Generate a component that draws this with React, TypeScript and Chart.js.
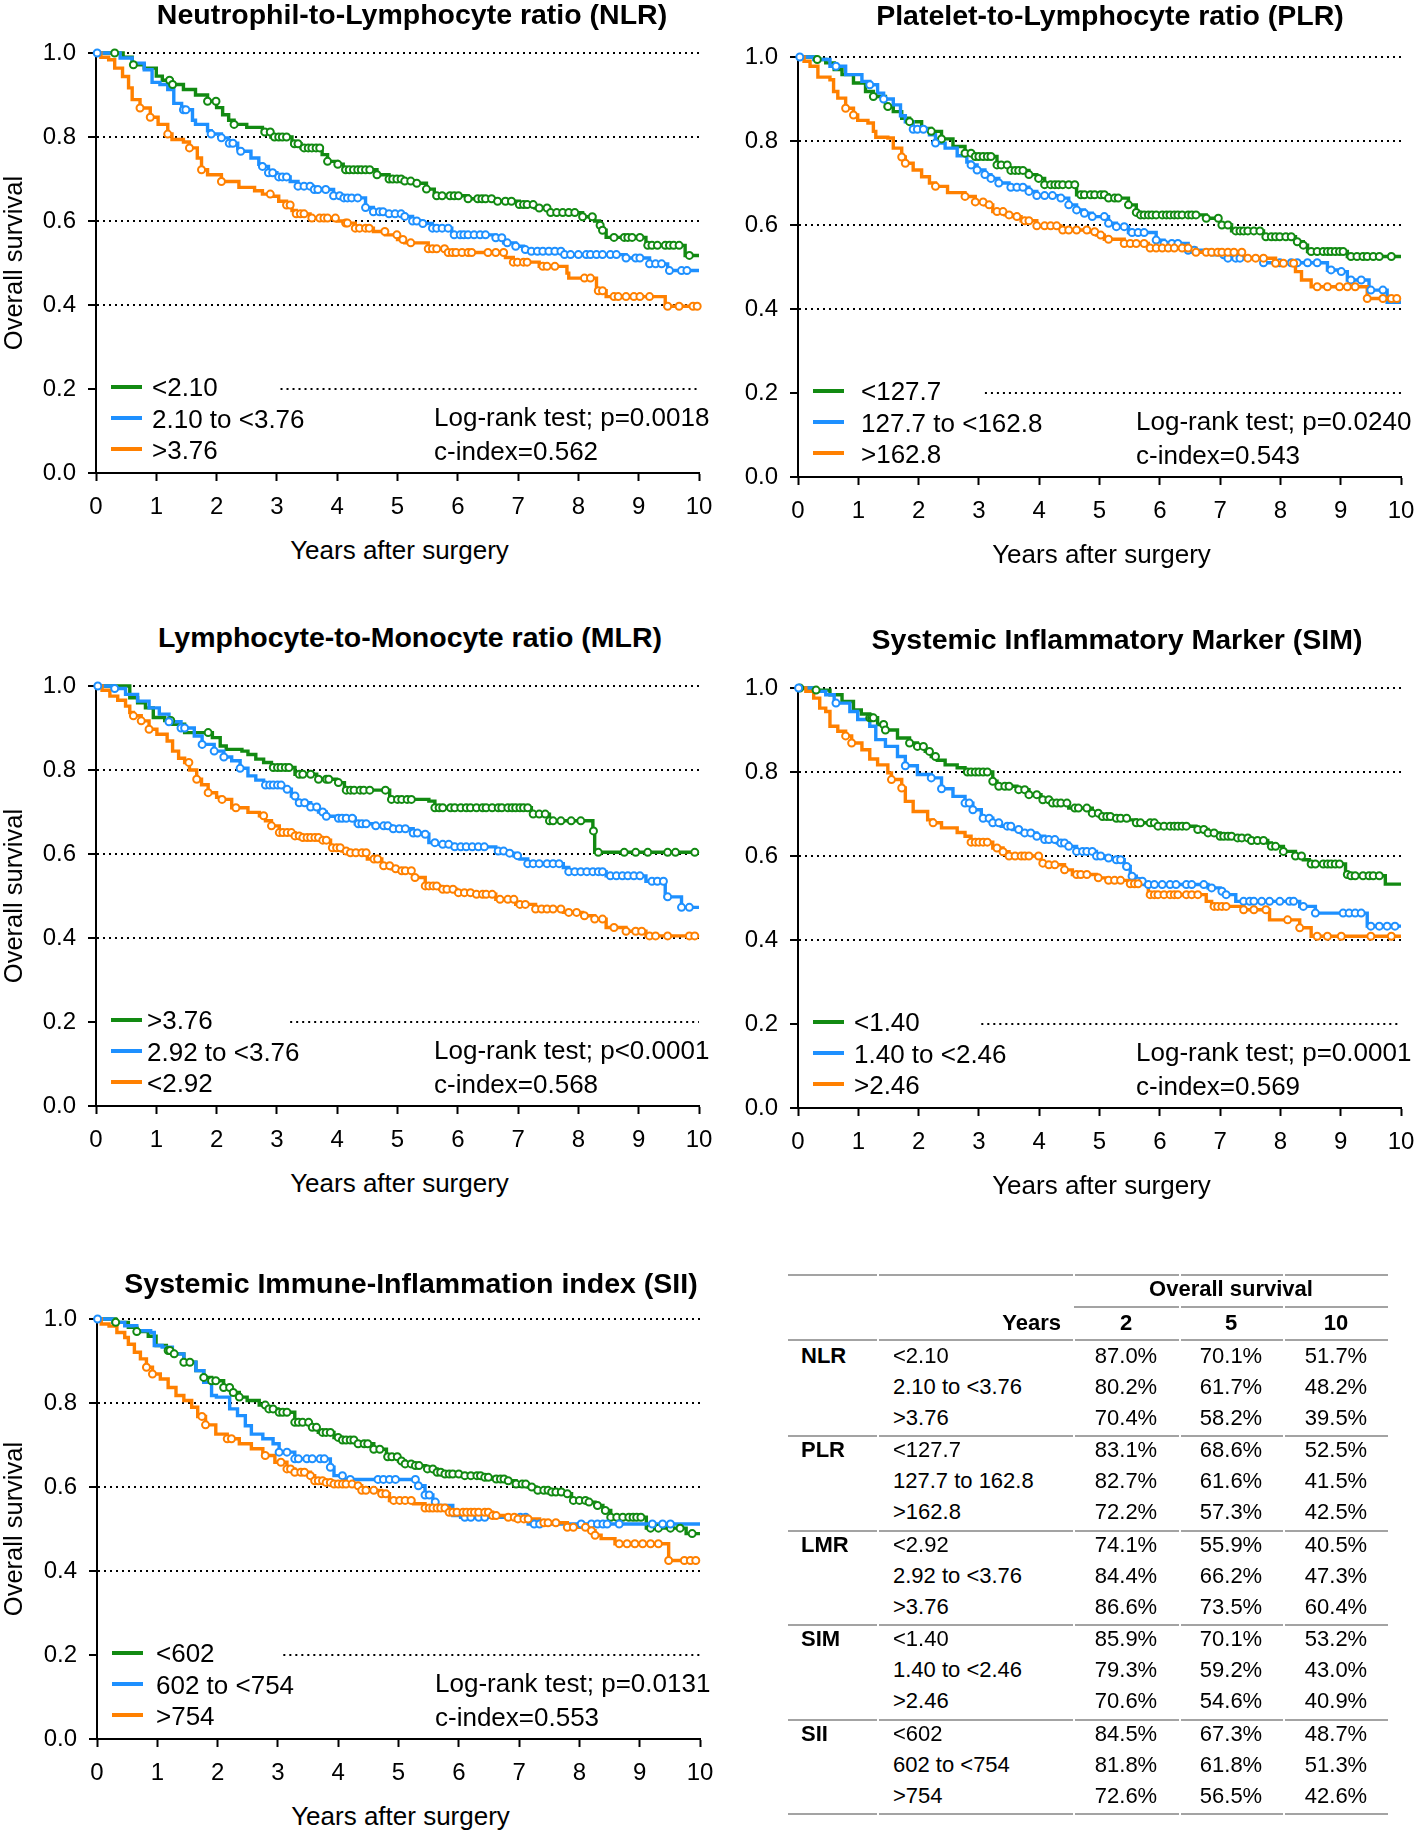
import React, { useEffect, useRef } from 'react';
import { Chart, registerables } from 'chart.js';
Chart.register(...registerables);

type Pt = [number, number];

const FONT = '"Liberation Sans", Arial, Helvetica, sans-serif';
const COLORS = ['#128A12', '#1E90FF', '#FF8000'];

const xTickLabels = ['0', '1', '2', '3', '4', '5', '6', '7', '8', '9', '10'];
const yTickLabels = ['0.0', '0.2', '0.4', '0.6', '0.8', '1.0'];

// ---------------- NLR ----------------
const nlrLabels = ['<2.10', '2.10 to <3.76', '>3.76'];
const nlrStats = ['Log-rank test; p=0.0018', 'c-index=0.562'];
const nlrLow: Pt[] = [[0,1],[0.45,0.99],[0.6,0.972],[0.8,0.964],[1.0,0.945],[1.1,0.935],[1.26,0.925],[1.45,0.913],[1.65,0.9],[1.85,0.885],[2.0,0.87],[2.1,0.853],[2.2,0.84],[2.29,0.83],[2.5,0.823],[2.76,0.812],[2.9,0.8],[3.25,0.784],[3.4,0.774],[3.75,0.758],[3.84,0.742],[4.0,0.735],[4.1,0.722],[4.66,0.71],[4.86,0.7],[5.1,0.695],[5.3,0.69],[5.48,0.676],[5.61,0.66],[6.17,0.653],[6.63,0.647],[7.02,0.639],[7.28,0.631],[7.51,0.62],[8.07,0.61],[8.27,0.6],[8.35,0.59],[8.4,0.578],[8.46,0.561],[9.12,0.542],[9.77,0.518],[10,0.518]];
const nlrLowCens = [0.31,0.62,1.22,1.27,1.85,1.99,2.29,2.8,2.89,2.96,3.03,3.09,3.16,3.29,3.35,3.45,3.52,3.58,3.65,3.71,3.84,4.01,4.14,4.2,4.27,4.34,4.4,4.47,4.54,4.66,4.86,4.92,4.99,5.06,5.12,5.22,5.32,5.48,5.65,5.74,5.87,5.94,6.01,6.17,6.33,6.4,6.46,6.56,6.66,6.79,6.89,7.02,7.09,7.15,7.25,7.35,7.48,7.54,7.64,7.74,7.84,7.94,8.07,8.23,8.36,8.4,8.59,8.76,8.82,8.89,9.02,9.15,9.22,9.31,9.44,9.51,9.58,9.67,9.84];
const nlrMid: Pt[] = [[0,1],[0.4,0.988],[0.6,0.976],[0.8,0.96],[0.93,0.93],[1.06,0.925],[1.19,0.913],[1.29,0.88],[1.42,0.865],[1.6,0.84],[1.65,0.83],[1.85,0.815],[1.91,0.807],[2.08,0.798],[2.2,0.785],[2.35,0.772],[2.4,0.766],[2.57,0.75],[2.7,0.735],[2.76,0.73],[2.86,0.715],[3.0,0.705],[3.22,0.694],[3.35,0.683],[3.6,0.675],[3.94,0.66],[4.1,0.655],[4.47,0.632],[4.6,0.622],[4.86,0.617],[5.12,0.611],[5.25,0.6],[5.4,0.594],[5.58,0.583],[5.9,0.567],[6.63,0.56],[6.76,0.548],[6.96,0.54],[7.09,0.532],[7.15,0.528],[7.74,0.52],[8.79,0.512],[9.18,0.498],[9.48,0.482],[10,0.482]];
const nlrMidCens = [0.02,1.45,1.49,1.91,2.08,2.21,2.27,2.4,2.76,2.86,2.93,3.03,3.09,3.16,3.35,3.45,3.55,3.62,3.68,3.81,3.94,4.04,4.11,4.17,4.24,4.34,4.47,4.6,4.7,4.76,4.86,4.96,5.06,5.12,5.25,5.32,5.42,5.58,5.65,5.74,5.84,5.94,6.04,6.1,6.17,6.27,6.37,6.46,6.63,6.73,6.82,6.96,7.12,7.22,7.32,7.41,7.51,7.61,7.71,7.77,7.87,8.0,8.13,8.2,8.3,8.4,8.53,8.63,8.79,8.95,9.02,9.18,9.28,9.38,9.51,9.71,9.8];
const nlrHigh: Pt[] = [[0,1],[0.08,0.99],[0.21,0.984],[0.31,0.964],[0.44,0.944],[0.54,0.917],[0.6,0.889],[0.73,0.869],[0.9,0.847],[1.03,0.83],[1.19,0.807],[1.26,0.794],[1.45,0.788],[1.55,0.774],[1.68,0.75],[1.75,0.722],[1.85,0.71],[2.08,0.694],[2.37,0.68],[2.63,0.672],[2.76,0.664],[2.9,0.659],[3.03,0.647],[3.16,0.638],[3.25,0.625],[3.32,0.617],[3.55,0.607],[4.0,0.6],[4.14,0.595],[4.3,0.583],[4.6,0.575],[4.8,0.567],[5.0,0.556],[5.12,0.548],[5.51,0.534],[5.81,0.525],[6.79,0.513],[6.92,0.502],[7.35,0.492],[7.81,0.476],[7.84,0.464],[8.3,0.434],[8.46,0.42],[9.44,0.397],[10,0.397]];
const nlrHighCens = [0.73,0.9,1.19,1.55,1.75,2.08,2.89,3.16,3.22,3.32,3.39,3.45,3.58,3.71,3.78,3.84,3.97,4.14,4.17,4.3,4.37,4.47,4.53,4.79,4.99,5.09,5.22,5.51,5.58,5.65,5.78,5.84,5.91,5.97,6.07,6.17,6.23,6.5,6.63,6.76,6.92,6.99,7.09,7.15,7.41,7.48,7.61,8.1,8.2,8.33,8.4,8.59,8.66,8.79,8.92,9.02,9.18,9.48,9.67,9.9,9.97];

// ---------------- PLR ----------------
const plrLabels = ['<127.7', '127.7 to <162.8', '>162.8'];
const plrStats = ['Log-rank test; p=0.0240', 'c-index=0.543'];
const plrLow: Pt[] = [[0,1],[0.3,0.994],[0.46,0.986],[0.6,0.97],[0.73,0.958],[0.92,0.938],[1.12,0.918],[1.25,0.906],[1.45,0.882],[1.58,0.87],[1.72,0.854],[1.85,0.846],[2.05,0.83],[2.21,0.823],[2.38,0.805],[2.57,0.787],[2.77,0.771],[2.9,0.763],[3.3,0.743],[3.5,0.73],[3.83,0.72],[3.96,0.711],[4.09,0.696],[4.62,0.672],[5.15,0.664],[5.48,0.648],[5.61,0.63],[5.68,0.624],[6.77,0.616],[7.0,0.6],[7.19,0.586],[7.72,0.572],[8.25,0.56],[8.38,0.552],[8.45,0.537],[9.11,0.525],[10,0.525]];
const plrLowCens = [0.32,1.25,1.49,1.85,2.21,2.38,2.77,2.87,2.94,3.0,3.07,3.14,3.2,3.3,3.37,3.47,3.53,3.6,3.66,3.73,3.83,3.99,4.09,4.19,4.26,4.32,4.39,4.49,4.59,4.69,4.75,4.85,4.92,5.02,5.08,5.15,5.25,5.31,5.48,5.61,5.68,5.74,5.81,5.87,5.94,6.04,6.11,6.17,6.24,6.3,6.37,6.47,6.53,6.6,6.77,6.97,7.03,7.13,7.26,7.33,7.39,7.46,7.56,7.66,7.76,7.85,7.92,7.99,8.09,8.18,8.28,8.38,8.51,8.61,8.71,8.78,8.84,8.91,8.98,9.04,9.17,9.27,9.37,9.44,9.54,9.64,9.84];
const plrMid: Pt[] = [[0,1],[0.26,0.994],[0.53,0.978],[0.79,0.958],[1.06,0.942],[1.19,0.934],[1.32,0.914],[1.42,0.9],[1.58,0.886],[1.7,0.86],[1.78,0.846],[1.91,0.828],[2.18,0.815],[2.28,0.795],[2.44,0.783],[2.64,0.765],[2.8,0.75],[2.87,0.743],[2.97,0.731],[3.1,0.72],[3.2,0.711],[3.33,0.7],[3.5,0.69],[3.83,0.68],[3.96,0.67],[4.36,0.664],[4.49,0.648],[4.62,0.636],[4.75,0.628],[4.88,0.62],[5.15,0.604],[5.28,0.596],[5.48,0.582],[5.94,0.564],[6.07,0.556],[6.47,0.54],[6.86,0.529],[7.13,0.521],[7.72,0.51],[8.78,0.493],[8.98,0.489],[9.11,0.469],[9.47,0.445],[9.77,0.416],[10,0.416]];
const plrMidCens = [0.03,0.63,1.19,1.42,1.91,1.98,2.08,2.28,2.87,2.97,3.1,3.2,3.33,3.53,3.63,3.73,3.83,3.96,4.09,4.22,4.36,4.49,4.62,4.75,4.88,5.08,5.15,5.28,5.41,5.54,5.64,5.74,5.94,6.07,6.2,6.3,6.47,6.57,7.06,7.13,7.26,7.33,7.72,7.99,8.18,8.28,8.45,8.61,8.84,9.01,9.17,9.34,9.5,9.7];
const plrHigh: Pt[] = [[0,1],[0.1,0.99],[0.2,0.978],[0.33,0.952],[0.53,0.946],[0.59,0.918],[0.66,0.902],[0.79,0.878],[0.92,0.862],[0.99,0.849],[1.16,0.843],[1.25,0.823],[1.29,0.809],[1.49,0.807],[1.58,0.783],[1.72,0.762],[1.78,0.747],[1.91,0.731],[2.05,0.715],[2.18,0.7],[2.28,0.692],[2.48,0.677],[2.77,0.668],[2.94,0.655],[3.1,0.648],[3.23,0.632],[3.43,0.624],[3.56,0.62],[3.7,0.61],[3.96,0.598],[4.36,0.588],[4.82,0.584],[4.95,0.576],[5.08,0.566],[5.41,0.556],[5.81,0.545],[6.6,0.535],[7.39,0.521],[7.92,0.509],[8.25,0.489],[8.35,0.469],[8.51,0.453],[9.44,0.425],[10,0.425]];
const plrHighCens = [0.79,0.92,1.72,1.78,2.28,2.77,2.94,3.07,3.17,3.3,3.4,3.5,3.63,3.76,3.83,3.96,4.09,4.19,4.29,4.39,4.49,4.62,4.79,4.92,5.02,5.15,5.41,5.51,5.61,5.74,5.84,5.94,6.04,6.14,6.24,6.37,6.47,6.6,6.77,6.86,6.96,7.03,7.13,7.23,7.36,7.46,7.59,7.72,7.92,8.05,8.22,8.61,8.78,8.98,9.11,9.24,9.44,9.7,9.84,9.93];

// ---------------- MLR ----------------
const mlrLabels = ['>3.76', '2.92 to <3.76', '<2.92'];
const mlrStats = ['Log-rank test; p<0.0001', 'c-index=0.568'];
const mlrHighGrp: Pt[] = [[0,1],[0.56,0.972],[0.69,0.96],[0.82,0.948],[0.95,0.925],[1.14,0.918],[1.27,0.909],[1.47,0.889],[1.93,0.877],[2.06,0.857],[2.16,0.849],[2.42,0.845],[2.52,0.837],[2.65,0.826],[2.78,0.818],[2.91,0.806],[3.3,0.79],[3.66,0.778],[3.99,0.77],[4.12,0.752],[4.87,0.73],[5.52,0.726],[5.62,0.71],[7.22,0.695],[7.52,0.679],[8.24,0.655],[8.27,0.604],[10,0.604]];
const mlrHighGrpCens = [1.24,1.86,2.94,3.01,3.07,3.14,3.2,3.37,3.43,3.56,3.69,3.82,3.86,4.02,4.15,4.22,4.28,4.38,4.44,4.54,4.8,4.9,5.0,5.07,5.16,5.23,5.62,5.69,5.75,5.88,5.95,6.05,6.14,6.21,6.31,6.41,6.47,6.57,6.67,6.73,6.83,6.9,6.96,7.03,7.09,7.16,7.25,7.35,7.45,7.52,7.58,7.71,7.88,8.04,8.25,8.33,8.76,8.95,9.15,9.48,9.61,9.93];
const mlrMid: Pt[] = [[0,1],[0.3,0.994],[0.49,0.98],[0.69,0.964],[0.88,0.948],[1.05,0.933],[1.21,0.915],[1.41,0.9],[1.63,0.881],[1.76,0.861],[1.96,0.845],[2.12,0.831],[2.25,0.822],[2.39,0.804],[2.52,0.786],[2.65,0.776],[2.78,0.764],[3.1,0.758],[3.17,0.754],[3.24,0.738],[3.33,0.722],[3.56,0.712],[3.69,0.7],[3.82,0.69],[4.02,0.685],[4.3,0.672],[4.6,0.667],[4.9,0.66],[5.26,0.65],[5.46,0.647],[5.52,0.627],[5.65,0.623],[5.92,0.617],[6.63,0.607],[6.8,0.602],[6.93,0.596],[7.03,0.588],[7.16,0.577],[7.75,0.568],[7.84,0.558],[8.46,0.548],[9.12,0.535],[9.44,0.498],[9.71,0.473],[10,0.473]];
const mlrMidCens = [0.03,0.31,1.21,1.41,1.47,1.76,1.96,2.12,2.39,2.81,2.88,2.94,3.01,3.07,3.17,3.3,3.37,3.46,3.56,3.66,3.76,3.82,4.02,4.08,4.15,4.25,4.35,4.41,4.48,4.64,4.77,4.84,4.93,5.03,5.13,5.26,5.33,5.46,5.62,5.75,5.85,5.95,6.05,6.14,6.24,6.34,6.44,6.67,6.76,6.86,6.99,7.16,7.25,7.35,7.48,7.58,7.68,7.84,7.94,8.04,8.14,8.24,8.33,8.4,8.53,8.63,8.73,8.82,8.92,9.02,9.22,9.31,9.41,9.48,9.71,9.84];
const mlrLowGrp: Pt[] = [[0,1],[0.1,0.99],[0.23,0.976],[0.36,0.966],[0.49,0.952],[0.56,0.937],[0.62,0.929],[0.75,0.917],[0.88,0.897],[1.01,0.885],[1.18,0.869],[1.27,0.845],[1.37,0.828],[1.47,0.818],[1.55,0.8],[1.67,0.778],[1.75,0.765],[1.86,0.746],[2.0,0.735],[2.09,0.73],[2.25,0.71],[2.52,0.699],[2.71,0.691],[2.81,0.679],[2.91,0.667],[3.04,0.651],[3.3,0.643],[3.43,0.639],[3.7,0.633],[3.89,0.615],[4.08,0.607],[4.22,0.603],[4.5,0.588],[4.74,0.572],[4.9,0.565],[5.07,0.56],[5.26,0.544],[5.46,0.524],[5.7,0.516],[5.98,0.508],[6.31,0.504],[6.63,0.492],[6.96,0.48],[7.29,0.469],[7.75,0.461],[8.07,0.453],[8.27,0.445],[8.46,0.425],[8.79,0.416],[9.12,0.405],[10,0.405]];
const mlrLowGrpCens = [0.62,0.75,0.88,1.54,1.67,1.86,2.09,2.32,2.78,2.91,3.04,3.1,3.17,3.24,3.3,3.37,3.43,3.5,3.56,3.63,3.69,3.76,3.82,3.92,3.99,4.05,4.15,4.22,4.31,4.41,4.48,4.61,4.67,4.77,4.87,4.97,5.07,5.13,5.23,5.29,5.46,5.52,5.59,5.65,5.75,5.82,5.92,6.01,6.11,6.21,6.31,6.41,6.47,6.57,6.7,6.83,6.93,7.03,7.12,7.29,7.39,7.48,7.58,7.71,7.84,7.97,8.1,8.27,8.4,8.59,8.79,8.95,9.05,9.18,9.28,9.48,9.84,9.93];

// ---------------- SIM ----------------
const simLabels = ['<1.40', '1.40 to <2.46', '>2.46'];
const simStats = ['Log-rank test; p=0.0001', 'c-index=0.569'];
const simLow: Pt[] = [[0,1],[0.3,0.995],[0.53,0.984],[0.73,0.968],[0.92,0.948],[1.05,0.938],[1.19,0.929],[1.32,0.913],[1.45,0.9],[1.65,0.881],[1.85,0.869],[1.98,0.861],[2.11,0.849],[2.21,0.837],[2.31,0.828],[2.44,0.817],[2.64,0.81],[2.77,0.8],[3.23,0.778],[3.3,0.766],[3.63,0.758],[3.83,0.746],[4.03,0.734],[4.2,0.726],[4.49,0.714],[4.88,0.702],[5.0,0.694],[5.28,0.69],[5.48,0.686],[5.61,0.679],[5.94,0.671],[6.6,0.663],[6.8,0.655],[7.0,0.647],[7.26,0.643],[7.5,0.637],[7.79,0.631],[7.85,0.623],[8.05,0.611],[8.25,0.6],[8.38,0.591],[8.48,0.581],[9.08,0.556],[9.14,0.553],[9.74,0.533],[10,0.533]];
const simLowCens = [0.03,0.3,1.19,1.22,1.25,1.42,1.45,1.85,1.98,2.08,2.18,2.28,2.81,2.87,2.94,3.0,3.07,3.14,3.23,3.33,3.43,3.5,3.66,3.76,3.83,3.96,4.06,4.16,4.22,4.29,4.36,4.46,4.59,4.65,4.79,4.88,4.98,5.05,5.12,5.18,5.28,5.35,5.45,5.61,5.68,5.84,5.91,5.97,6.07,6.17,6.24,6.3,6.37,6.44,6.63,6.73,6.8,6.9,7.0,7.06,7.13,7.19,7.29,7.36,7.46,7.52,7.62,7.72,7.85,7.92,8.05,8.25,8.35,8.51,8.58,8.71,8.78,8.84,8.91,8.98,9.11,9.17,9.24,9.37,9.47,9.54,9.64];
const simMid: Pt[] = [[0,1],[0.26,0.992],[0.46,0.984],[0.6,0.964],[0.86,0.944],[0.99,0.925],[1.19,0.909],[1.29,0.877],[1.45,0.861],[1.65,0.837],[1.78,0.815],[1.98,0.794],[2.21,0.786],[2.38,0.76],[2.57,0.742],[2.77,0.726],[2.9,0.71],[3.04,0.69],[3.23,0.679],[3.37,0.671],[3.56,0.663],[3.7,0.655],[3.96,0.647],[4.09,0.639],[4.3,0.631],[4.49,0.623],[4.62,0.611],[4.95,0.6],[5.08,0.595],[5.28,0.591],[5.41,0.575],[5.51,0.552],[5.61,0.54],[5.74,0.532],[6.8,0.524],[7.0,0.516],[7.06,0.508],[7.26,0.492],[8.32,0.48],[8.58,0.464],[9.44,0.433],[10,0.433]];
const simMidCens = [0.01,0.63,1.78,2.21,2.38,2.77,2.84,2.9,3.07,3.17,3.23,3.33,3.47,3.53,3.66,3.76,3.86,3.96,4.09,4.16,4.26,4.36,4.42,4.49,4.62,4.72,4.79,4.88,4.95,5.02,5.15,5.28,5.35,5.45,5.54,5.64,5.71,5.81,5.91,6.04,6.17,6.27,6.44,6.53,6.73,6.86,7.03,7.1,7.39,7.49,7.56,7.69,7.82,7.99,8.15,8.22,8.38,8.58,9.04,9.14,9.24,9.34,9.5,9.64,9.77,9.9];
const simHigh: Pt[] = [[0,1],[0.13,0.992],[0.26,0.976],[0.36,0.952],[0.46,0.944],[0.53,0.909],[0.66,0.897],[0.79,0.886],[0.89,0.869],[1.06,0.853],[1.19,0.831],[1.32,0.817],[1.49,0.798],[1.55,0.782],[1.72,0.762],[1.78,0.73],[1.91,0.706],[2.15,0.686],[2.24,0.679],[2.38,0.667],[2.64,0.656],[2.77,0.647],[2.87,0.633],[3.23,0.619],[3.4,0.61],[3.5,0.6],[4.03,0.583],[4.16,0.579],[4.42,0.567],[4.55,0.556],[4.95,0.548],[5.15,0.542],[5.48,0.534],[5.81,0.508],[6.77,0.492],[6.86,0.48],[7.39,0.472],[7.82,0.448],[8.32,0.429],[8.51,0.409],[10,0.409]];
const simHighCens = [0.79,0.89,1.55,1.72,2.24,2.87,2.94,3.0,3.07,3.14,3.3,3.4,3.5,3.6,3.7,3.76,3.83,3.99,4.06,4.16,4.26,4.42,4.62,4.69,4.79,4.98,5.15,5.25,5.35,5.51,5.58,5.64,5.84,5.91,5.97,6.07,6.17,6.24,6.3,6.44,6.53,6.63,6.9,6.96,7.03,7.1,7.39,7.56,7.76,8.12,8.32,8.61,8.78,9.01,9.5,9.84];

// ---------------- SII ----------------
const siiLabels = ['<602', '602 to <754', '>754'];
const siiStats = ['Log-rank test; p=0.0131', 'c-index=0.553'];
const siiLow: Pt[] = [[0,1],[0.31,0.992],[0.52,0.98],[0.66,0.97],[0.85,0.959],[0.98,0.937],[1.15,0.925],[1.25,0.917],[1.44,0.897],[1.64,0.877],[1.77,0.861],[1.9,0.853],[2.1,0.837],[2.23,0.825],[2.36,0.814],[2.49,0.806],[2.69,0.795],[2.82,0.786],[3.0,0.778],[3.28,0.754],[3.54,0.742],[3.67,0.73],[3.93,0.718],[4.07,0.712],[4.3,0.703],[4.59,0.69],[4.8,0.672],[5.0,0.662],[5.11,0.655],[5.25,0.651],[5.45,0.643],[5.64,0.635],[5.77,0.631],[6.1,0.627],[6.43,0.623],[6.56,0.619],[6.82,0.615],[6.95,0.607],[7.15,0.6],[7.28,0.592],[7.5,0.588],[7.74,0.584],[7.87,0.568],[8.13,0.564],[8.26,0.556],[8.39,0.544],[8.52,0.528],[9.11,0.502],[9.77,0.489],[10,0.489]];
const siiLowCens = [0.31,0.66,1.18,1.21,1.28,1.44,1.54,1.77,1.9,1.97,2.1,2.2,2.26,2.36,2.79,2.85,2.92,3.02,3.08,3.15,3.28,3.34,3.41,3.51,3.57,3.64,3.74,3.8,3.87,4.0,4.07,4.13,4.2,4.26,4.33,4.43,4.49,4.59,4.69,4.82,4.89,4.98,5.05,5.11,5.21,5.28,5.34,5.48,5.57,5.64,5.7,5.77,5.84,5.9,6.0,6.1,6.2,6.3,6.36,6.43,6.49,6.62,6.69,6.75,6.82,6.95,7.05,7.11,7.21,7.31,7.41,7.48,7.54,7.61,7.7,7.8,7.9,8.0,8.1,8.16,8.3,8.43,8.52,8.62,8.72,8.82,8.89,8.95,9.02,9.18,9.31,9.51,9.67,9.87];
const siiMid: Pt[] = [[0,1],[0.26,0.992],[0.46,0.984],[0.66,0.972],[0.89,0.968],[0.95,0.937],[1.08,0.933],[1.25,0.917],[1.44,0.897],[1.64,0.877],[1.77,0.849],[1.9,0.818],[1.98,0.814],[2.2,0.786],[2.33,0.77],[2.46,0.746],[2.56,0.726],[2.75,0.715],[2.92,0.703],[3.02,0.683],[3.28,0.667],[3.87,0.647],[3.93,0.627],[4.1,0.618],[5.31,0.603],[5.44,0.581],[5.57,0.564],[5.64,0.556],[5.9,0.532],[6.03,0.528],[7.15,0.512],[10,0.512]];
const siiMidCens = [0.01,3.02,3.15,3.28,3.34,3.48,3.57,3.7,3.77,3.87,4.07,4.2,4.66,4.75,4.85,4.95,5.28,5.33,5.44,5.51,5.61,6.1,6.2,6.33,6.43,7.02,7.11,7.25,7.34,8.03,8.2,8.3,8.39,8.46,8.66,9.21,9.38,9.51];
const siiHigh: Pt[] = [[0,1],[0.07,0.988],[0.2,0.983],[0.33,0.968],[0.46,0.956],[0.52,0.94],[0.62,0.921],[0.72,0.905],[0.82,0.885],[0.92,0.869],[1.05,0.857],[1.18,0.837],[1.31,0.818],[1.44,0.806],[1.57,0.79],[1.67,0.768],[1.8,0.748],[1.97,0.726],[2.16,0.715],[2.36,0.703],[2.56,0.691],[2.75,0.675],[2.95,0.659],[3.15,0.643],[3.28,0.635],[3.54,0.627],[3.61,0.615],[3.8,0.611],[3.93,0.607],[4.26,0.603],[4.39,0.592],[4.72,0.584],[4.85,0.568],[5.25,0.56],[5.44,0.55],[5.84,0.54],[6.56,0.532],[6.82,0.528],[6.95,0.524],[7.34,0.515],[7.8,0.504],[8.2,0.496],[8.26,0.485],[8.36,0.477],[8.59,0.465],[9.48,0.425],[10,0.425]];
const siiHighCens = [0.82,0.92,1.74,1.8,2.16,2.23,2.79,3.05,3.15,3.21,3.28,3.38,3.44,3.54,3.61,3.67,3.74,3.8,3.87,3.93,4.0,4.07,4.13,4.23,4.33,4.39,4.46,4.59,4.72,4.79,4.92,5.02,5.11,5.21,5.44,5.51,5.57,5.64,5.7,5.77,5.84,5.9,5.97,6.07,6.13,6.2,6.26,6.33,6.43,6.49,6.56,6.62,6.82,6.92,6.98,7.08,7.15,7.41,7.48,7.61,7.8,7.9,8.1,8.2,8.26,8.66,8.79,8.92,9.05,9.18,9.31,9.48,9.74,9.84,9.93];

// ---------------- Table ----------------
const tableGroups = ['NLR', 'PLR', 'LMR', 'SIM', 'SII'];
const tableSub = [
  ['<2.10', '2.10 to <3.76', '>3.76'],
  ['<127.7', '127.7 to 162.8', '>162.8'],
  ['<2.92', '2.92 to <3.76', '>3.76'],
  ['<1.40', '1.40 to <2.46', '>2.46'],
  ['<602', '602 to <754', '>754'],
];
const tableYears = ['2', '5', '10'];
const os2 = [[87.0, 80.2, 70.4], [83.1, 82.7, 72.2], [74.1, 84.4, 86.6], [85.9, 79.3, 70.6], [84.5, 81.8, 72.6]];
const os5 = [[70.1, 61.7, 58.2], [68.6, 61.6, 57.3], [55.9, 66.2, 73.5], [70.1, 59.2, 54.6], [67.3, 61.8, 56.5]];
const os10 = [[51.7, 48.2, 39.5], [52.5, 41.5, 42.5], [40.5, 47.3, 60.4], [53.2, 43.0, 40.9], [48.7, 51.3, 42.6]];

// ---------------- layout ----------------
interface Curve { steps: Pt[]; censor: number[] }
interface PanelCfg {
  key: string; title: string; titleX: number; titleY: number;
  X0: number; Y1: number; showY: boolean; textOff: number; dotStart: number;
  labels: string[]; stats: string[]; curves: Curve[];
}
const PW = 603; // plot width
const PH = 420; // plot height

const panels: PanelCfg[] = [
  { key: 'nlr', title: 'Neutrophil-to-Lymphocyte ratio (NLR)', titleX: 412, titleY: 14, X0: 96, Y1: 53, showY: true, textOff: 56, dotStart: 3.06,
    labels: nlrLabels, stats: nlrStats, curves: [{ steps: nlrLow, censor: nlrLowCens }, { steps: nlrMid, censor: nlrMidCens }, { steps: nlrHigh, censor: nlrHighCens }] },
  { key: 'plr', title: 'Platelet-to-Lymphocyte ratio (PLR)', titleX: 1110, titleY: 15, X0: 798, Y1: 57, showY: false, textOff: 63, dotStart: 3.1,
    labels: plrLabels, stats: plrStats, curves: [{ steps: plrLow, censor: plrLowCens }, { steps: plrMid, censor: plrMidCens }, { steps: plrHigh, censor: plrHighCens }] },
  { key: 'mlr', title: 'Lymphocyte-to-Monocyte ratio (MLR)', titleX: 410, titleY: 637, X0: 96, Y1: 686, showY: true, textOff: 51, dotStart: 3.22,
    labels: mlrLabels, stats: mlrStats, curves: [{ steps: mlrHighGrp, censor: mlrHighGrpCens }, { steps: mlrMid, censor: mlrMidCens }, { steps: mlrLowGrp, censor: mlrLowGrpCens }] },
  { key: 'sim', title: 'Systemic Inflammatory Marker (SIM)', titleX: 1117, titleY: 639, X0: 798, Y1: 688, showY: false, textOff: 56, dotStart: 3.04,
    labels: simLabels, stats: simStats, curves: [{ steps: simLow, censor: simLowCens }, { steps: simMid, censor: simMidCens }, { steps: simHigh, censor: simHighCens }] },
  { key: 'sii', title: 'Systemic Immune-Inflammation index (SII)', titleX: 411, titleY: 1283, X0: 97, Y1: 1319, showY: true, textOff: 59, dotStart: 3.09,
    labels: siiLabels, stats: siiStats, curves: [{ steps: siiLow, censor: siiLowCens }, { steps: siiMid, censor: siiMidCens }, { steps: siiHigh, censor: siiHighCens }] },
];

function survAt(steps: Pt[], t: number): number {
  let s = 1;
  for (const [x, y] of steps) {
    if (x <= t) s = y; else break;
  }
  return s;
}

const PAD_L = 80, PAD_T = 32, PAD_R = 30, PAD_B = 60;

function KMPanel({ p }: { p: PanelCfg }) {
  const ref = useRef<HTMLCanvasElement | null>(null);
  const W = PW + PAD_L + PAD_R;
  const H = PH + PAD_T + PAD_B;
  useEffect(() => {
    const cv = ref.current;
    if (!cv) return;
    const datasets: any[] = [];
    p.curves.forEach((c, i) => {
      const color = COLORS[i];
      datasets.push({
        data: c.steps.map(([x, y]) => ({ x, y })), stepped: true, borderColor: color, borderWidth: 3.4,
        pointRadius: 0, fill: false, clip: false, order: 20 - i,
      });
      datasets.push({
        data: c.censor.map((t) => ({ x: t, y: survAt(c.steps, t) })), showLine: false, pointRadius: 3.5,
        pointBorderWidth: 2, pointBackgroundColor: '#ffffff', pointBorderColor: color, borderColor: color,
        clip: false, order: 10 - i,
      });
    });
    datasets.push({
      data: [{ x: p.dotStart, y: 0.2 }, { x: 10, y: 0.2 }], borderColor: '#000', borderWidth: 2,
      borderDash: [2, 4], pointRadius: 0, fill: false, order: 30,
    });
    const chart = new Chart(cv, {
      type: 'line',
      data: { datasets },
      options: {
        animation: false,
        responsive: false,
        maintainAspectRatio: false,
        events: [],
        layout: { padding: { left: 0, top: PAD_T, right: PAD_R, bottom: 0 } },
        plugins: { legend: { display: false }, tooltip: { enabled: false }, title: { display: false } },
        scales: {
          x: {
            type: 'linear', min: 0, max: 10,
            afterFit: (s: any) => { s.height = PAD_B; },
            ticks: {
              stepSize: 1, autoSkip: false, maxRotation: 0, padding: 12, color: '#000',
              font: { size: 24, family: FONT },
              callback: (_v: any, i: number) => xTickLabels[i],
            },
            grid: { drawOnChartArea: false, drawTicks: true, tickLength: 8, tickColor: '#000', tickWidth: 2 },
            border: { display: true, color: '#000', width: 2 },
          },
          y: {
            type: 'linear', min: 0, max: 1,
            afterFit: (s: any) => { s.width = PAD_L; },
            ticks: {
              stepSize: 0.2, padding: 12, color: '#000', font: { size: 24, family: FONT },
              callback: (_v: any, i: number) => yTickLabels[i],
            },
            grid: {
              color: (ctx: any) => (ctx.tick && ctx.tick.value > 0.3 ? '#000' : 'rgba(0,0,0,0)'),
              lineWidth: 2, drawTicks: true, tickLength: 8, tickColor: '#000', tickWidth: 2,
            },
            border: { display: true, color: '#000', width: 2, dash: [2, 4] },
          },
        },
      } as any,
    });
    return () => chart.destroy();
  }, [p]);
  return (
    <canvas
      ref={ref}
      width={W}
      height={H}
      style={{ position: 'absolute', left: p.X0 - PAD_L, top: p.Y1 - PAD_T, width: W, height: H }}
    />
  );
}

function Txt({ x, y, children, size = 25, bold = false, align = 'left' }: { x: number; y: number; children: any; size?: number; bold?: boolean; align?: 'left' | 'center' | 'right' }) {
  const lh = 30;
  const style: any = {
    position: 'absolute', top: y - lh / 2, height: lh, lineHeight: lh + 'px', fontSize: size,
    fontWeight: bold ? 'bold' : 'normal', whiteSpace: 'nowrap', color: '#000', fontFamily: FONT,
  };
  if (align === 'left') { style.left = x; }
  else if (align === 'center') { style.left = x - 400; style.width = 800; style.textAlign = 'center'; }
  else { style.left = x - 600; style.width = 600; style.textAlign = 'right'; }
  return <div style={style}>{children}</div>;
}

function PanelOverlay({ p }: { p: PanelCfg }) {
  const legendRows = [334, 365.5, 396.5];
  const statRows = [364, 398];
  return (
    <>
      <Txt x={p.titleX} y={p.titleY} size={28.5} bold align="center">{p.title}</Txt>
      {p.showY && (
        <div style={{ position: 'absolute', left: 13 - 150, top: p.Y1 + PH / 2 - 15, width: 300, height: 30, lineHeight: '30px', textAlign: 'center', fontSize: 25.5, fontFamily: FONT, color: '#000', transform: 'rotate(-90deg)', whiteSpace: 'nowrap' }}>
          Overall survival
        </div>
      )}
      <Txt x={p.X0 + PW / 2 + 2} y={p.Y1 + PH + 77} size={26} align="center">Years after surgery</Txt>
      {p.labels.map((lab, i) => (
        <React.Fragment key={lab + i}>
          <div style={{ position: 'absolute', left: p.X0 + 15, top: p.Y1 + legendRows[i] - 2.5, width: 31, height: 4, background: COLORS[i] }} />
          <Txt x={p.X0 + p.textOff} y={p.Y1 + legendRows[i]} size={26}>{lab}</Txt>
        </React.Fragment>
      ))}
      {p.stats.map((s, i) => (
        <Txt key={s} x={p.X0 + 338} y={p.Y1 + statRows[i]} size={26}>{s}</Txt>
      ))}
    </>
  );
}

const colBounds = [878, 1074, 1180, 1284];
function HLine({ y, x1, x2 }: { y: number; x1: number; x2: number }) {
  const pts = [x1, ...colBounds.filter((b) => b > x1 + 2 && b < x2 - 2), x2];
  const segs: any[] = [];
  for (let i = 0; i < pts.length - 1; i++) {
    const a = i === 0 ? pts[i] : pts[i] + 1;
    const b = i === pts.length - 2 ? pts[i + 1] : pts[i + 1] - 1;
    segs.push(<div key={i} style={{ position: 'absolute', left: a, top: y - 1, width: b - a, height: 2, background: '#A3A3A3' }} />);
  }
  return <>{segs}</>;
}

function SurvTable() {
  const L = 788, R = 1388;
  const valX = [1126, 1231, 1336];
  const groupTop = 1355.6, groupStep = 94.5, rowStep = 31;
  const cols = [os2, os5, os10];
  const items: any[] = [];
  items.push(<HLine key="top" y={1274.6} x1={L} x2={R} />);
  items.push(<Txt key="os" x={1231} y={1289} size={22} bold align="center">Overall survival</Txt>);
  items.push(<HLine key="osl" y={1307.4} x1={1074} x2={R} />);
  items.push(<Txt key="yrs" x={1061} y={1323} size={22} bold align="right">Years</Txt>);
  tableYears.forEach((yv, k) => items.push(<Txt key={'yh' + k} x={valX[k]} y={1323} size={22} bold align="center">{yv}</Txt>));
  items.push(<HLine key="hl" y={1340.3} x1={L} x2={R} />);
  tableGroups.forEach((g, gi) => {
    const y0 = groupTop + gi * groupStep;
    items.push(<Txt key={'g' + gi} x={801} y={y0} size={22} bold>{g}</Txt>);
    tableSub[gi].forEach((s, r) => {
      const y = y0 + r * rowStep;
      items.push(<Txt key={'s' + gi + r} x={893} y={y} size={22}>{s}</Txt>);
      cols.forEach((col, k) => {
        items.push(<Txt key={'v' + gi + r + k} x={valX[k]} y={y} size={22} align="center">{col[gi][r].toFixed(1) + '%'}</Txt>);
      });
    });
    items.push(<HLine key={'gl' + gi} y={1436 + gi * groupStep} x1={L} x2={R} />);
  });
  return <>{items}</>;
}

export default function App() {
  useEffect(() => {
    document.body.style.margin = '0';
    document.body.style.background = '#fff';
  }, []);
  return (
    <div style={{ position: 'absolute', left: 0, top: 0, width: 1416, height: 1832, overflow: 'hidden', background: '#fff', fontFamily: FONT }}>
      {panels.map((p) => (
        <React.Fragment key={p.key}>
          <KMPanel p={p} />
          <PanelOverlay p={p} />
        </React.Fragment>
      ))}
      <SurvTable />
    </div>
  );
}
